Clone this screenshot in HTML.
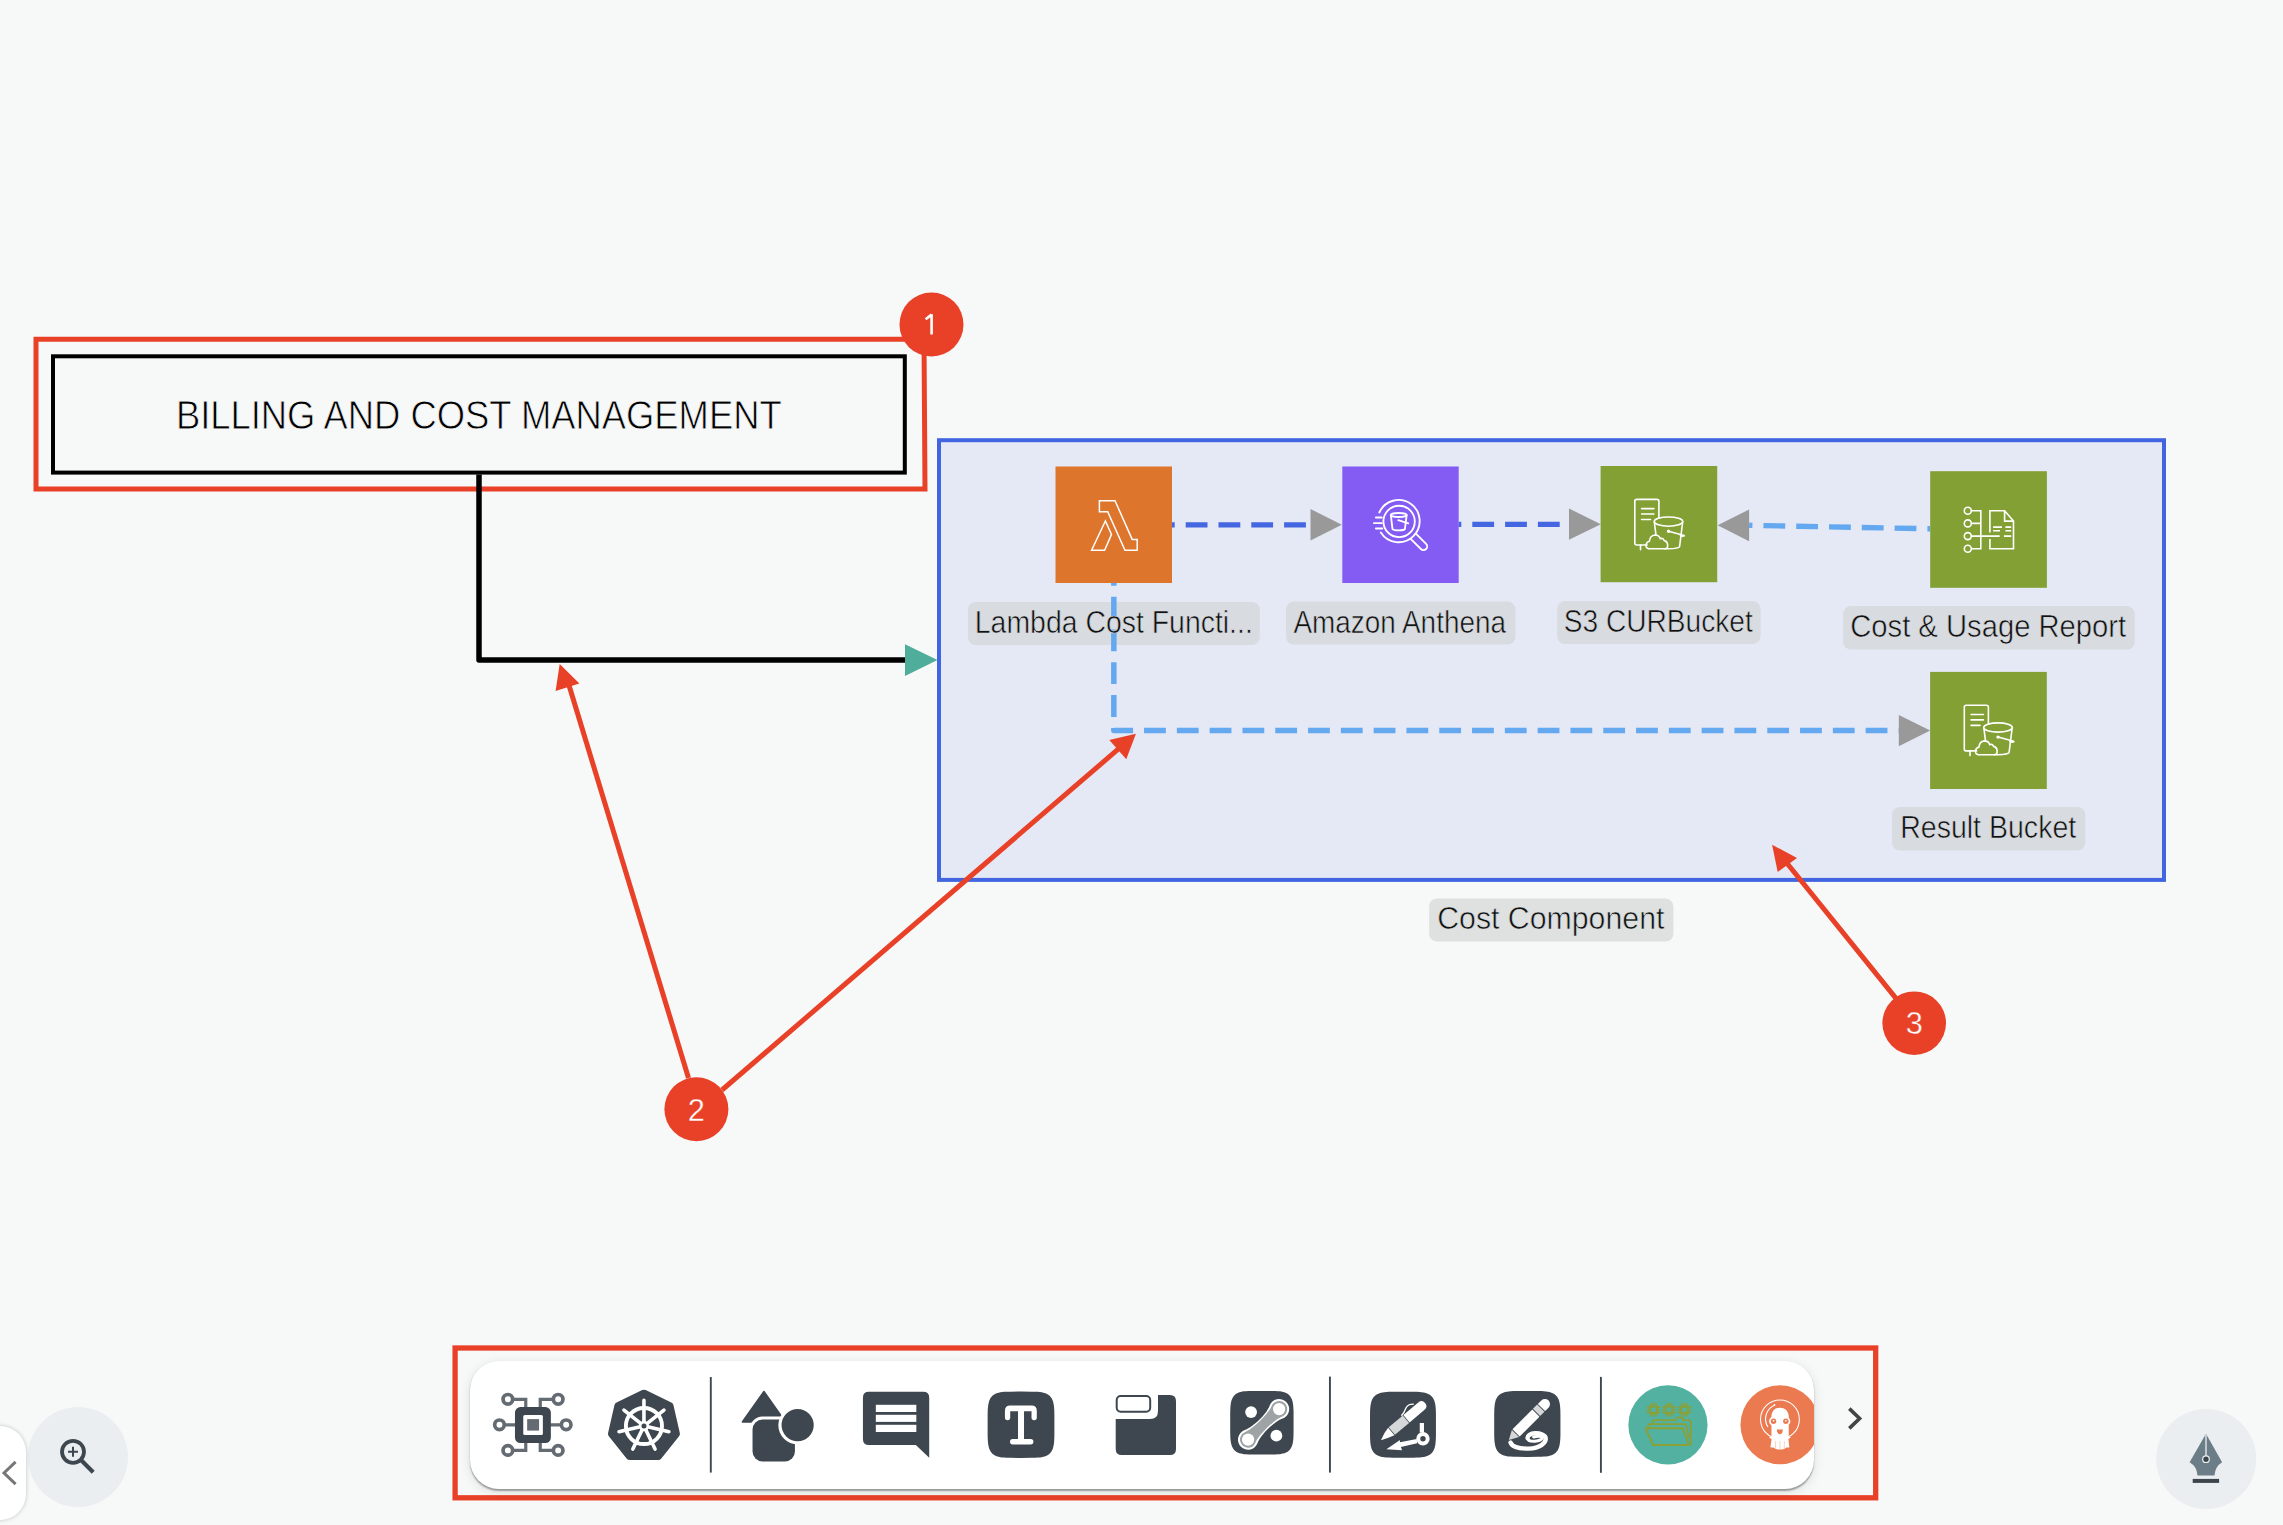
<!DOCTYPE html>
<html>
<head>
<meta charset="utf-8">
<style>
html,body{margin:0;padding:0;width:2283px;height:1525px;overflow:hidden;background:#f7f8f8;}
svg{position:absolute;left:0;top:0;}
text{font-family:"Liberation Sans",sans-serif;}
</style>
</head>
<body>
<svg width="2283" height="1525" viewBox="0 0 2283 1525">
<defs>
  <g id="s3icon" fill="none" stroke="#fff" stroke-width="1.6" stroke-linejoin="round" stroke-linecap="round">
    <path d="M46.5 79 H36.2 Q34.2 79 34.2 77 V35.4 Q34.2 33.4 36.2 33.4 H56.3 Q58.3 33.4 58.3 35.4 V51.5"/>
    <path d="M39.9 79 V83.7"/>
    <path d="M41 42.6 H53.3 M41 48 H53.3 M41 53.5 H49.9"/>
    <ellipse cx="67.9" cy="55.6" rx="14.3" ry="4.6"/>
    <path d="M53.8 56.5 L55.3 68.5"/>
    <path d="M82 56.5 L79 80.5 Q78 82.8 68 82.8 H48.5"/>
    <path d="M67.9 65.2 L82.8 69.2 Q85 70 82 70.3 L79.8 69.6"/>
    <circle cx="67.9" cy="65.2" r="0.9" fill="#fff"/>
    <path d="M48.5 82.8 Q44.8 82.5 45.5 78.5 Q46.3 75.5 48.8 75.2 Q49.5 69.5 54.2 69 Q58.5 69 59.7 72.8 Q62 71.5 63.5 74.5 Q67.5 75.5 67 80.5 Q66.8 82.8 64 82.8"/>
  </g>
</defs>

<!-- Red annotation box 1 -->
<path d="M36 339.3 H924 L925 489 H36 Z" fill="none" stroke="#e84127" stroke-width="5"/>
<!-- Black box -->
<rect x="53" y="356.3" width="851.8" height="116.3" fill="none" stroke="#000" stroke-width="4"/>
<text x="175.9" y="428.9" font-size="40.8" fill="#000" stroke="#f7f8f8" stroke-width="0.8" textLength="605.8" lengthAdjust="spacingAndGlyphs">BILLING AND COST MANAGEMENT</text>

<!-- Blue group box -->
<rect x="939" y="440.2" width="1225" height="439.7" fill="#e5e8f5" stroke="#4165e0" stroke-width="4"/>

<!-- black connector -->
<path d="M479 474.6 V660.1 H906" fill="none" stroke="#000" stroke-width="5.5" stroke-linejoin="round"/>
<path d="M905 644.2 L937.5 659.9 L905 676.1 Z" fill="#4fae9b"/>

<!-- Dashed connectors inside -->
<g fill="none" stroke-dasharray="21.8 11" stroke-dashoffset="19.1">
<path d="M1172 524.8 H1310.5" stroke="#4466e0" stroke-width="5.2"/>
<path d="M1458.6 524.4 H1569" stroke="#4466e0" stroke-width="5.2"/>
<path d="M1930.1 528.8 L1749.1 525.3" stroke="#64a8f0" stroke-width="5.4"/>
</g>
<path d="M1310.5 509.1 L1341.8 524.8 L1310.5 540.6 Z" fill="#999"/>
<path d="M1569 508.5 L1600.8 524.3 L1569 539.8 Z" fill="#999"/>
<path d="M1749.1 509.6 L1717.6 525.2 L1749.1 541.3 Z" fill="#999"/>
<path d="M1898.8 715.1 L1930.2 730.6 L1898.8 746.2 Z" fill="#999"/>
<!-- AWS icons -->
<g transform="translate(1055.5 466.5)">
  <rect width="116.5" height="116.5" fill="#dd752d"/>
  <g fill="none" stroke="#fff" stroke-width="1.5" stroke-linejoin="miter">
    <path d="M43.9 34.2 H59.5 L76.7 72.9 H81.7 V83.7 H69.5 L52.2 45.3 H43.9 Z"/>
    <path d="M49.9 54.5 L56 67.9 L49.1 83.7 H36.1 Z"/>
  </g>
</g>
<g transform="translate(1342.3 466.5)">
  <rect width="116.4" height="116.5" fill="#845cf4"/>
  <g fill="none" stroke="#fff" stroke-width="1.85" stroke-linecap="round">
    <circle cx="56.8" cy="54.9" r="15.7"/>
    <path d="M37 46 A21.1 21.1 0 1 1 38.5 66"/>
    <path d="M74.1 67.6 L83.8 77.3 A3.67 3.67 0 0 1 78.6 82.5 L68.9 72.8"/>
    <path d="M33.6 51 H39.5 M31.6 56.6 H39.5 M33.6 62 H40"/>
    <ellipse cx="56.4" cy="48.5" rx="8" ry="2"/>
    <path d="M48.6 49 L50.2 62.5 Q51 63.8 56.4 63.8 Q62 63.8 62.6 62.5 L64.3 49"/>
    <path d="M56 53.7 L66 56.8"/>
  </g>
</g>
<g transform="translate(1600.6 466)">
  <rect width="116.6" height="116.2" fill="#83a035"/>
  <use href="#s3icon"/>
</g>
<g transform="translate(1930.2 471.2)">
  <rect width="116.7" height="116.6" fill="#83a035"/>
  <g fill="none" stroke="#fff" stroke-width="1.6">
    <circle cx="37.6" cy="39.5" r="3.5"/>
    <circle cx="37.6" cy="52.2" r="3.5"/>
    <circle cx="37.6" cy="64.9" r="3.5"/>
    <circle cx="37.6" cy="77.5" r="3.5"/>
    <path d="M41.1 39.5 H50.6 V77.5 H41.1 M41.1 52.2 H50.6 M41.1 64.9 H69.5 M73.7 64.9 H81"/>
    <path d="M59.7 61.4 V39.5 H74.4 L83.3 49.9 V77.5 H59.7 V67.9 M74.4 39.5 V49.9 H83.3"/>
    <path d="M62.9 55.9 H71.8 M75.2 55.9 H81 M62.9 59.5 H69.8 M75.2 59.5 H81"/>
  </g>
</g>
<g transform="translate(1930.1 671.9)">
  <rect width="116.7" height="117.1" fill="#83a035"/>
  <use href="#s3icon"/>
</g>

<!-- labels -->
<rect x="968" y="602" width="291.8" height="43" rx="8" fill="#d8dbdf"/>
<rect x="1286" y="601.6" width="229.5" height="43" rx="8" fill="#d8dbdf"/>
<rect x="1557.2" y="601.1" width="203.4" height="43" rx="8" fill="#d8dbdf"/>
<rect x="1843.1" y="606.1" width="291.7" height="43.5" rx="8" fill="#d8dbdf"/>
<rect x="1892" y="807" width="193.3" height="43.5" rx="8" fill="#d8dbdf"/>
<rect x="1429.1" y="898.4" width="244.3" height="43.2" rx="8" fill="#dfe0e0"/>
<!-- vertical dashed (over label bg, under text) -->
<path d="M1113.85 583 V730.5 H1898.8" fill="none" stroke="#64a8f0" stroke-width="5.5" stroke-dasharray="21.8 11" stroke-dashoffset="19.1" stroke-linejoin="round"/>
<g font-size="30.9" fill="#111" stroke="#d8dbdf" stroke-width="0.6">
<text x="974.8" y="632.7" textLength="278" lengthAdjust="spacingAndGlyphs">Lambda Cost Functi...</text>
<text x="1293.4" y="632.5" textLength="212.6" lengthAdjust="spacingAndGlyphs">Amazon Anthena</text>
<text x="1563.8" y="631.8" textLength="189" lengthAdjust="spacingAndGlyphs">S3 CURBucket</text>
<text x="1850.2" y="637.1" textLength="276" lengthAdjust="spacingAndGlyphs">Cost &amp; Usage Report</text>
<text x="1900.2" y="838.1" textLength="176" lengthAdjust="spacingAndGlyphs">Result Bucket</text>
<text x="1437.2" y="929.3" textLength="227.2" lengthAdjust="spacingAndGlyphs" stroke="#dfe0e0">Cost Component</text>
</g>

<!-- red annotations -->
<g fill="#e84127" stroke="none">
  <circle cx="931.5" cy="324.5" r="32"/>
  <circle cx="696.4" cy="1109.2" r="32"/>
  <circle cx="1914.2" cy="1023.2" r="31.8"/>
</g>
<g stroke="#e84127" stroke-width="5" fill="none">
  <path d="M688.5 1078 L568 682"/>
  <path d="M722 1090 L1120.8 746.9"/>
  <path d="M1895.8 998.1 L1786 862"/>
</g>
<g fill="#e84127">
  <path d="M559.7 663.9 L579.4 683.6 L555.6 691.1 Z"/>
  <path d="M1135.9 733.8 L1126.3 759.3 L1109.3 739.9 Z"/>
  <path d="M1772.1 844.7 L1797 858 L1777.7 872 Z"/>
</g>
<path d="M931.6 314.2 V334.4 M931.6 314.6 L925.6 319.2" stroke="#fff" stroke-width="2.6" fill="none" stroke-linejoin="round"/><g fill="#fff" font-size="30.8" stroke="#e84127" stroke-width="0.4">
  <text x="696.2" y="1120.9" text-anchor="middle">2</text>
  <text x="1914.2" y="1033.6" text-anchor="middle">3</text>
</g>

</svg>

<!-- red frame around toolbar -->
<svg width="2283" height="1525" viewBox="0 0 2283 1525" style="pointer-events:none">
  <rect x="455.1" y="1348" width="1420.6" height="149.8" fill="none" stroke="#e84127" stroke-width="5.3"/>
  <!-- chevron right -->
  <path d="M1849.3 1408.6 L1859.6 1418.5 L1849.3 1428.4" fill="none" stroke="#444" stroke-width="3.6"/>
  <!-- zoom button -->
  <circle cx="78" cy="1457" r="50" fill="#ebeef1"/>
  <circle cx="73" cy="1451.8" r="11" fill="none" stroke="#3e474f" stroke-width="3.8"/>
  <path d="M81.5 1460.5 L93.2 1472.2" stroke="#3e474f" stroke-width="4.2"/>
  <path d="M68 1451.8 H78 M73 1446.8 V1456.8" stroke="#3e474f" stroke-width="2"/>
  <!-- pen button -->
  <circle cx="2206.2" cy="1459" r="50" fill="#ebeef1"/>
  <path d="M2206 1433.7 L2222.1 1462.2 Q2215 1466.5 2214.5 1475.5 H2197.5 Q2197 1466.5 2189.6 1462.2 Z" fill="#6b7d87"/>
  <path d="M2206 1434.5 V1456" stroke="#e4e8eb" stroke-width="1.4"/>
  <circle cx="2206" cy="1459.2" r="3.3" fill="#3d454c" stroke="#eef1f3" stroke-width="1.2"/>
  <rect x="2192.7" y="1478.9" width="26.4" height="4" fill="#3d454c"/>
</svg>
<div style="position:absolute;left:-60px;top:1425.6px;width:85.7px;height:94.2px;border-radius:26px;background:#fff;box-shadow:0 0 4px rgba(0,0,0,0.22);"></div>
<svg width="30" height="100" viewBox="0 1400 30 100" style="position:absolute;left:0;top:1400px">
  <path d="M15.6 1461.8 L4 1473 L15.6 1484.2" fill="none" stroke="#777" stroke-width="3"/>
</svg>
<div style="position:absolute;left:470px;top:1361px;width:1344px;height:128.2px;border-radius:29px;background:#fff;overflow:hidden;box-shadow:0 1.5px 1.5px rgba(0,0,0,0.33),0 3px 12px rgba(0,0,0,0.11);">
<svg width="1344" height="128.2" viewBox="470 1361 1344 128.2" style="position:absolute;left:0;top:0">
  <!-- circuit -->
  <g stroke="#646b72" stroke-width="3.2" fill="none">
    <g stroke-width="3.7"><circle cx="507.8" cy="1399.3" r="4.8"/><circle cx="558.1" cy="1399.3" r="4.8"/>
    <circle cx="499.4" cy="1424.8" r="4.8"/><circle cx="566.1" cy="1424.8" r="4.8"/>
    <circle cx="507.8" cy="1450.4" r="4.8"/><circle cx="558.1" cy="1450.4" r="4.8"/></g>
    <path d="M512.4 1399.3 H525.7 V1408 M553.5 1399.3 H540.2 V1408 M504 1424.8 H515 M550 1424.8 H561.5 M512.4 1450.4 H525.7 V1442 M553.5 1450.4 H540.2 V1442"/>
  </g>
  <rect x="514.9" y="1407.1" width="35.9" height="35.9" rx="5.5" fill="#3e474f"/>
  <rect x="523.2" y="1415" width="19.6" height="19.9" rx="1.5" fill="#fff"/>
  <rect x="527.1" y="1419.1" width="11.9" height="11.5" fill="#646b72"/>
  <!-- helm -->
  <path d="M643.90 1393.70 L669.54 1406.05 L675.88 1433.80 L658.13 1456.05 L629.67 1456.05 L611.92 1433.80 L618.26 1406.05 Z" fill="#3e474f" stroke="#3e474f" stroke-width="8" stroke-linejoin="round"/>
  <circle cx="643.9" cy="1426" r="18.05" fill="none" stroke="#fff" stroke-width="3.9"/>
  <path d="M643.90 1421.00 L643.90 1400.40 M647.81 1422.88 L663.91 1410.04 M648.77 1427.11 L668.86 1431.70 M646.07 1430.50 L655.01 1449.06 M641.73 1430.50 L632.79 1449.06 M639.03 1427.11 L618.94 1431.70 M639.99 1422.88 L623.89 1410.04" stroke="#fff" stroke-width="3.6" stroke-linecap="round"/>
  <circle cx="643.9" cy="1426" r="5.2" fill="#fff"/>
  <circle cx="643.9" cy="1426" r="2.5" fill="#3e474f"/>
  <!-- separators -->
  <rect x="709.8" y="1377" width="1.9" height="95.6" fill="#3e474f"/>
  <rect x="1329" y="1376.6" width="1.9" height="96" fill="#3e474f"/>
  <rect x="1600" y="1376.9" width="1.9" height="95.9" fill="#3e474f"/>
  <!-- shapes -->
  <path d="M763.9 1391.5 L785.5 1421.9 H742.3 Z" fill="#3e474f" stroke="#3e474f" stroke-width="1.5" stroke-linejoin="round"/>
  <rect x="749.5" y="1416.6" width="48.4" height="47.8" rx="13" fill="#fff"/>
  <rect x="752.5" y="1419.6" width="42.4" height="41.8" rx="10" fill="#3e474f"/>
  <circle cx="797.6" cy="1425.1" r="19.3" fill="#fff"/>
  <circle cx="797.6" cy="1425.1" r="16.1" fill="#3e474f"/>
  <!-- comment -->
  <path d="M868.9 1391.8 H923.2 Q929.2 1391.8 929.2 1397.8 V1457.7 L915.8 1444.9 H868.9 Q862.9 1444.9 862.9 1438.9 V1397.8 Q862.9 1391.8 868.9 1391.8 Z" fill="#3e474f"/>
  <g fill="#fff"><rect x="875.8" y="1404.8" width="40.5" height="7.2"/><rect x="875.8" y="1414.8" width="40.5" height="7.1"/><rect x="875.8" y="1424.8" width="40.5" height="7.2"/></g>
  <!-- text -->
  <path d="M1054.40 1424.75 L1054.37 1435.26 L1054.28 1438.82 L1054.13 1441.41 L1053.92 1443.51 L1053.64 1445.31 L1053.30 1446.87 L1052.90 1448.26 L1052.44 1449.51 L1051.90 1450.63 L1051.30 1451.65 L1050.62 1452.57 L1049.87 1453.40 L1049.03 1454.15 L1048.10 1454.82 L1047.08 1455.42 L1045.95 1455.95 L1044.69 1456.42 L1043.29 1456.81 L1041.71 1457.15 L1039.91 1457.42 L1037.78 1457.63 L1035.17 1457.78 L1031.59 1457.87 L1021.00 1457.90 L1010.41 1457.87 L1006.83 1457.78 L1004.22 1457.63 L1002.09 1457.42 L1000.29 1457.15 L998.71 1456.81 L997.31 1456.42 L996.05 1455.95 L994.92 1455.42 L993.90 1454.82 L992.97 1454.15 L992.13 1453.40 L991.38 1452.57 L990.70 1451.65 L990.10 1450.63 L989.56 1449.51 L989.10 1448.26 L988.70 1446.87 L988.36 1445.31 L988.08 1443.51 L987.87 1441.41 L987.72 1438.82 L987.63 1435.26 L987.60 1424.75 L987.63 1414.24 L987.72 1410.68 L987.87 1408.09 L988.08 1405.99 L988.36 1404.19 L988.70 1402.63 L989.10 1401.24 L989.56 1399.99 L990.10 1398.87 L990.70 1397.85 L991.38 1396.93 L992.13 1396.10 L992.97 1395.35 L993.90 1394.68 L994.92 1394.08 L996.05 1393.55 L997.31 1393.08 L998.71 1392.69 L1000.29 1392.35 L1002.09 1392.08 L1004.22 1391.87 L1006.83 1391.72 L1010.41 1391.63 L1021.00 1391.60 L1031.59 1391.63 L1035.17 1391.72 L1037.78 1391.87 L1039.91 1392.08 L1041.71 1392.35 L1043.29 1392.69 L1044.69 1393.08 L1045.95 1393.55 L1047.08 1394.08 L1048.10 1394.68 L1049.03 1395.35 L1049.87 1396.10 L1050.62 1396.93 L1051.30 1397.85 L1051.90 1398.87 L1052.44 1399.99 L1052.90 1401.24 L1053.30 1402.63 L1053.64 1404.19 L1053.92 1405.99 L1054.13 1408.09 L1054.28 1410.68 L1054.37 1414.24 Z" fill="#3e474f"/>
  <path d="M1004.9 1417.5 V1411 Q1004.9 1405.6 1010.3 1405.6 H1031.4 Q1036.8 1405.6 1036.8 1411 V1417.5 A2.65 2.65 0 0 1 1031.5 1417.5 V1411.3 H1010.2 V1417.5 A2.65 2.65 0 0 1 1004.9 1417.5 Z" fill="#fff"/>
  <rect x="1018" y="1410" width="6" height="30" fill="#fff"/>
  <rect x="1010" y="1438.9" width="23.4" height="5.5" rx="2.7" fill="#fff"/>
  <!-- card -->
  <rect x="1116.7" y="1396" width="33.5" height="15.7" rx="4" fill="none" stroke="#3e474f" stroke-width="2"/>
  <path d="M1158 1395 H1170 Q1176 1395 1176 1401 V1449 Q1176 1455 1170 1455 H1121.7 Q1115.7 1455 1115.7 1449 V1419.1 H1150 Q1158 1419.1 1158 1411 Z" fill="#3e474f"/>
  <!-- link -->
  <path d="M1293.60 1422.75 L1293.57 1432.85 L1293.49 1436.26 L1293.34 1438.76 L1293.14 1440.78 L1292.88 1442.50 L1292.56 1444.01 L1292.18 1445.34 L1291.74 1446.54 L1291.23 1447.62 L1290.66 1448.59 L1290.01 1449.48 L1289.30 1450.28 L1288.50 1451.00 L1287.62 1451.64 L1286.65 1452.22 L1285.58 1452.73 L1284.38 1453.17 L1283.05 1453.56 L1281.56 1453.88 L1279.84 1454.14 L1277.83 1454.34 L1275.35 1454.48 L1271.95 1454.57 L1261.90 1454.60 L1251.85 1454.57 L1248.45 1454.48 L1245.97 1454.34 L1243.96 1454.14 L1242.24 1453.88 L1240.75 1453.56 L1239.42 1453.17 L1238.22 1452.73 L1237.15 1452.22 L1236.18 1451.64 L1235.30 1451.00 L1234.50 1450.28 L1233.79 1449.48 L1233.14 1448.59 L1232.57 1447.62 L1232.06 1446.54 L1231.62 1445.34 L1231.24 1444.01 L1230.92 1442.50 L1230.66 1440.78 L1230.46 1438.76 L1230.31 1436.26 L1230.23 1432.85 L1230.20 1422.75 L1230.23 1412.65 L1230.31 1409.24 L1230.46 1406.74 L1230.66 1404.72 L1230.92 1403.00 L1231.24 1401.49 L1231.62 1400.16 L1232.06 1398.96 L1232.57 1397.88 L1233.14 1396.91 L1233.79 1396.02 L1234.50 1395.22 L1235.30 1394.50 L1236.18 1393.86 L1237.15 1393.28 L1238.22 1392.77 L1239.42 1392.33 L1240.75 1391.94 L1242.24 1391.62 L1243.96 1391.36 L1245.97 1391.16 L1248.45 1391.02 L1251.85 1390.93 L1261.90 1390.90 L1271.95 1390.93 L1275.35 1391.02 L1277.83 1391.16 L1279.84 1391.36 L1281.56 1391.62 L1283.05 1391.94 L1284.38 1392.33 L1285.58 1392.77 L1286.65 1393.28 L1287.62 1393.86 L1288.50 1394.50 L1289.30 1395.22 L1290.01 1396.02 L1290.66 1396.91 L1291.23 1397.88 L1291.74 1398.96 L1292.18 1400.16 L1292.56 1401.49 L1292.88 1403.00 L1293.14 1404.72 L1293.34 1406.74 L1293.49 1409.24 L1293.57 1412.65 Z" fill="#3e474f"/>
  <circle cx="1251.1" cy="1412.1" r="5.9" fill="#fff"/>
  <circle cx="1276.4" cy="1435.7" r="5.9" fill="#fff"/>
  <path fill="#fff" d="M1269.61 1405.65 C1266.53 1414.10 1253.10 1427.03 1244.65 1430.11 A10.1 10.1 0 1 0 1257.59 1443.05 C1260.67 1434.60 1274.10 1421.67 1282.55 1418.59 A10.1 10.1 0 1 0 1269.61 1405.65 Z"/>
  <path fill="#9ea3a6" d="M1271.49 1406.33 C1268.92 1413.38 1252.38 1429.42 1245.33 1431.99 A8.1 8.1 0 1 0 1255.71 1442.37 C1258.28 1435.32 1274.82 1419.28 1281.87 1416.71 A8.1 8.1 0 1 0 1271.49 1406.33 Z"/>
  <circle cx="1279.1" cy="1409.1" r="6.1" fill="#fff"/><circle cx="1248.1" cy="1439.6" r="6.1" fill="#fff"/>
  <!-- pen -->
  <path d="M1436.00 1424.72 L1435.97 1435.20 L1435.88 1438.74 L1435.73 1441.32 L1435.52 1443.42 L1435.25 1445.20 L1434.92 1446.76 L1434.52 1448.15 L1434.06 1449.39 L1433.53 1450.51 L1432.94 1451.52 L1432.27 1452.44 L1431.52 1453.27 L1430.69 1454.01 L1429.78 1454.68 L1428.77 1455.28 L1427.65 1455.81 L1426.41 1456.27 L1425.02 1456.67 L1423.46 1457.00 L1421.68 1457.27 L1419.58 1457.48 L1417.00 1457.63 L1413.47 1457.72 L1403.00 1457.75 L1392.53 1457.72 L1389.00 1457.63 L1386.42 1457.48 L1384.32 1457.27 L1382.54 1457.00 L1380.98 1456.67 L1379.59 1456.27 L1378.35 1455.81 L1377.23 1455.28 L1376.22 1454.68 L1375.31 1454.01 L1374.48 1453.27 L1373.73 1452.44 L1373.06 1451.52 L1372.47 1450.51 L1371.94 1449.39 L1371.48 1448.15 L1371.08 1446.76 L1370.75 1445.20 L1370.48 1443.42 L1370.27 1441.32 L1370.12 1438.74 L1370.03 1435.20 L1370.00 1424.73 L1370.03 1414.25 L1370.12 1410.71 L1370.27 1408.13 L1370.48 1406.03 L1370.75 1404.25 L1371.08 1402.69 L1371.48 1401.30 L1371.94 1400.06 L1372.47 1398.94 L1373.06 1397.93 L1373.73 1397.01 L1374.48 1396.18 L1375.31 1395.44 L1376.22 1394.77 L1377.23 1394.17 L1378.35 1393.64 L1379.59 1393.18 L1380.98 1392.78 L1382.54 1392.45 L1384.32 1392.18 L1386.42 1391.97 L1389.00 1391.82 L1392.53 1391.73 L1403.00 1391.70 L1413.47 1391.73 L1417.00 1391.82 L1419.58 1391.97 L1421.68 1392.18 L1423.46 1392.45 L1425.02 1392.78 L1426.41 1393.18 L1427.65 1393.64 L1428.77 1394.17 L1429.78 1394.77 L1430.69 1395.44 L1431.52 1396.18 L1432.27 1397.01 L1432.94 1397.93 L1433.53 1398.94 L1434.06 1400.06 L1434.52 1401.30 L1434.92 1402.69 L1435.25 1404.25 L1435.52 1406.03 L1435.73 1408.13 L1435.88 1410.71 L1435.97 1414.25 Z" fill="#3e474f"/>
  <g transform="translate(1380.9 1440.3) rotate(-40.1)">
    <path d="M0 0 Q7 -3.6 13.6 -4.85 V4.85 Q7 3 0 0 Z" fill="#fff"/>
    <rect x="14.3" y="-4.85" width="18.5" height="9.7" fill="#d5d7d9"/>
    <path d="M33.5 -4.85 H53 Q57.8 -4.85 57.8 0 Q57.8 4.85 53 4.85 H33.5 Z" fill="#fff"/>
    <path d="M31.5 -5.6 Q36 -6.2 40 -8.6 Q44 -10.5 48.5 -6.5" fill="none" stroke="#fff" stroke-width="1.3"/>
  </g>
  <path d="M1386.4 1449.3 L1400 1440 L1399.9 1442.3 L1416.8 1439.1 L1417.1 1443.3 L1400.9 1447 L1402.1 1450.2 Z" fill="#fff"/>
  <circle cx="1423" cy="1438.8" r="4.7" fill="none" stroke="#fff" stroke-width="4"/>
  <path d="M1421.9 1432.5 V1422.9" stroke="#fff" stroke-width="4.2"/>
  <!-- pencil -->
  <path d="M1560.50 1423.95 L1560.47 1434.40 L1560.38 1437.93 L1560.23 1440.51 L1560.02 1442.60 L1559.75 1444.38 L1559.41 1445.94 L1559.02 1447.32 L1558.55 1448.56 L1558.02 1449.68 L1557.42 1450.69 L1556.75 1451.60 L1556.00 1452.43 L1555.17 1453.17 L1554.25 1453.84 L1553.23 1454.44 L1552.11 1454.96 L1550.86 1455.42 L1549.47 1455.82 L1547.91 1456.15 L1546.11 1456.42 L1544.01 1456.63 L1541.42 1456.78 L1537.86 1456.87 L1527.35 1456.90 L1516.84 1456.87 L1513.28 1456.78 L1510.69 1456.63 L1508.59 1456.42 L1506.79 1456.15 L1505.23 1455.82 L1503.84 1455.42 L1502.59 1454.96 L1501.47 1454.44 L1500.45 1453.84 L1499.53 1453.17 L1498.70 1452.43 L1497.95 1451.60 L1497.28 1450.69 L1496.68 1449.68 L1496.15 1448.56 L1495.68 1447.32 L1495.29 1445.94 L1494.95 1444.38 L1494.68 1442.60 L1494.47 1440.51 L1494.32 1437.93 L1494.23 1434.40 L1494.20 1423.95 L1494.23 1413.50 L1494.32 1409.97 L1494.47 1407.39 L1494.68 1405.30 L1494.95 1403.52 L1495.29 1401.96 L1495.68 1400.58 L1496.15 1399.34 L1496.68 1398.22 L1497.28 1397.21 L1497.95 1396.30 L1498.70 1395.47 L1499.53 1394.73 L1500.45 1394.06 L1501.47 1393.46 L1502.59 1392.94 L1503.84 1392.48 L1505.23 1392.08 L1506.79 1391.75 L1508.59 1391.48 L1510.69 1391.27 L1513.28 1391.12 L1516.84 1391.03 L1527.35 1391.00 L1537.86 1391.03 L1541.42 1391.12 L1544.01 1391.27 L1546.11 1391.48 L1547.91 1391.75 L1549.47 1392.08 L1550.86 1392.48 L1552.11 1392.94 L1553.23 1393.46 L1554.25 1394.06 L1555.17 1394.73 L1556.00 1395.47 L1556.75 1396.30 L1557.42 1397.21 L1558.02 1398.22 L1558.55 1399.34 L1559.02 1400.58 L1559.41 1401.96 L1559.75 1403.52 L1560.02 1405.30 L1560.23 1407.39 L1560.38 1409.97 L1560.47 1413.50 Z" fill="#3e474f"/>
  <g transform="translate(1508.9 1440.1) rotate(-45)">
    <path d="M0 0 L9.3 -5.1 V5.1 Z" fill="#d5d7d9"/>
    <rect x="10.2" y="-5.1" width="28" height="10.2" fill="#fff"/>
    <rect x="39.1" y="-5.1" width="6.1" height="10.2" fill="#d5d7d9"/>
    <path d="M46.1 -5.1 H51 A5.1 5.1 0 0 1 51 5.1 H46.1 Z" fill="#fff"/>
  </g>
  <path d="M1510.6 1442.6 C1512.6 1448.3 1521 1448.8 1529 1448.6 C1540 1448.3 1545.8 1442.8 1545.8 1438.7 C1545.8 1434.7 1540 1433.2 1535 1433.3 C1530.5 1433.5 1527.4 1435.6 1527.6 1438.1" fill="none" stroke="#fff" stroke-width="4.4" stroke-linecap="round"/>
  <path d="M1527.6 1438.1 C1527.8 1440.8 1531.5 1441.4 1535 1441.2 C1539.5 1440.9 1542.6 1439.1 1542.3 1437.5 C1542 1435.9 1537.6 1436 1533.6 1437" fill="none" stroke="#fff" stroke-width="3" stroke-linecap="round"/>
  <!-- teal circle -->
  <circle cx="1668" cy="1424.9" r="39.6" fill="#52b1a0"/>
  <rect x="1650.32" y="1406.52" width="6.56" height="6.56" fill="none" stroke="#8ba037" stroke-width="2.1"/><path d="M1651.00 1403.10 V1405.50 M1651.00 1414.10 V1416.50 M1646.90 1407.20 H1649.30 M1657.90 1407.20 H1660.30 M1653.60 1403.10 V1405.50 M1653.60 1414.10 V1416.50 M1646.90 1409.80 H1649.30 M1657.90 1409.80 H1660.30 M1656.20 1403.10 V1405.50 M1656.20 1414.10 V1416.50 M1646.90 1412.40 H1649.30 M1657.90 1412.40 H1660.30" stroke="#8ba037" stroke-width="1.6"/><rect x="1665.77" y="1406.52" width="6.56" height="6.56" fill="none" stroke="#8ba037" stroke-width="2.1"/><path d="M1666.45 1403.10 V1405.50 M1666.45 1414.10 V1416.50 M1662.35 1407.20 H1664.75 M1673.35 1407.20 H1675.75 M1669.05 1403.10 V1405.50 M1669.05 1414.10 V1416.50 M1662.35 1409.80 H1664.75 M1673.35 1409.80 H1675.75 M1671.65 1403.10 V1405.50 M1671.65 1414.10 V1416.50 M1662.35 1412.40 H1664.75 M1673.35 1412.40 H1675.75" stroke="#8ba037" stroke-width="1.6"/><rect x="1681.22" y="1406.52" width="6.56" height="6.56" fill="none" stroke="#8ba037" stroke-width="2.1"/><path d="M1681.90 1403.10 V1405.50 M1681.90 1414.10 V1416.50 M1677.80 1407.20 H1680.20 M1688.80 1407.20 H1691.20 M1684.50 1403.10 V1405.50 M1684.50 1414.10 V1416.50 M1677.80 1409.80 H1680.20 M1688.80 1409.80 H1691.20 M1687.10 1403.10 V1405.50 M1687.10 1414.10 V1416.50 M1677.80 1412.40 H1680.20 M1688.80 1412.40 H1691.20" stroke="#8ba037" stroke-width="1.6"/>
  <g fill="none" stroke="#8ba037" stroke-width="1.85" stroke-linejoin="round">
    <path d="M1652.7 1424.5 V1422.4 Q1652.7 1420.1 1655 1420.1 H1675.8 V1419.5 Q1675.8 1417.4 1677.9 1417.4 H1681 Q1683 1417.4 1683 1419.5 V1420.1 H1688.8 Q1690.8 1420.1 1690.8 1422.2 V1445"/>
    <path d="M1648.5 1428.3 V1424.1 H1686 L1689 1438"/>
    <path d="M1645.5 1428.3 H1682.6 L1689.2 1445 H1653.2 Z"/>
  </g>
  <!-- orange circle -->
  <circle cx="1780" cy="1424.8" r="39.5" fill="#ec7a50"/>
  <circle cx="1780" cy="1419.4" r="19.4" fill="none" stroke="#fff" stroke-width="1.1"/>
  <path d="M1775 1405 A15 15 0 0 0 1768 1427" fill="none" stroke="#fff" stroke-width="1.2"/>
  <circle cx="1774.6" cy="1404.8" r="0.9" fill="#fff"/>
  <path d="M1771.5 1438 V1417 C1771.5 1411 1775 1407.8 1779.9 1407.8 C1784.8 1407.8 1788.8 1411 1788.8 1417 V1438 Z" fill="#fff"/>
  <path d="M1772 1437 L1770.6 1446.6 Q1770 1447.6 1771.8 1447.6 H1773.6 Q1775.5 1449.6 1778.5 1449.6 H1781.5 Q1784.5 1449.6 1786.3 1447.6 H1788.2 Q1790 1447.6 1789.3 1446.6 L1788.2 1437 Z" fill="#fff"/>
  <path d="M1769 1437.6 L1772 1436.4 V1439.2 Z M1791 1437.6 L1788 1436.4 V1439.2 Z" fill="#fff"/>
  <path d="M1775.6 1441 V1448.5 M1780 1441 V1449 M1784.4 1441 V1448.5" stroke="#f5c0a8" stroke-width="0.7"/>
  <circle cx="1773.6" cy="1421.2" r="4.46" fill="#fff"/>
  <circle cx="1785.9" cy="1421.2" r="4.46" fill="#fff"/>
  <circle cx="1773.6" cy="1421.2" r="2.7" fill="#ec7a50"/>
  <circle cx="1785.9" cy="1421.2" r="2.7" fill="#ec7a50"/>
  <ellipse cx="1773.6" cy="1420.7" rx="1" ry="0.7" fill="#fff"/>
  <ellipse cx="1785.9" cy="1420.7" rx="1" ry="0.7" fill="#fff"/>
  <path d="M1776.8 1429.5 H1783 Q1782.5 1434.2 1779.9 1434.2 Q1777.3 1434.2 1776.8 1429.5 Z" fill="#ec7a50"/>
</svg>
</div>
</body>
</html>
